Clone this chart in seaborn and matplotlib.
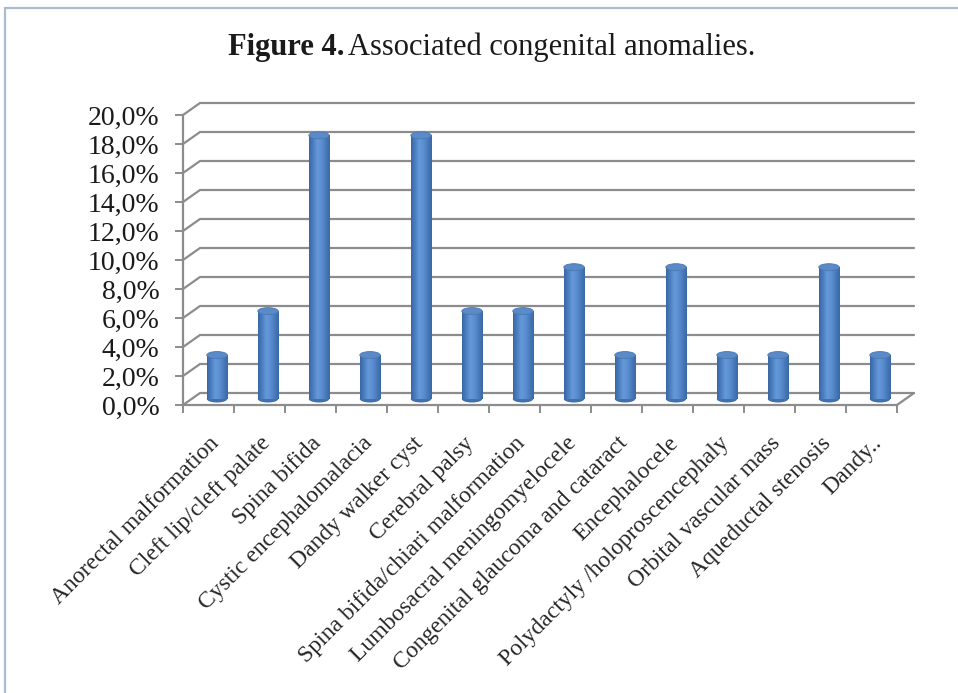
import matplotlib
matplotlib.use("Agg")
import matplotlib.pyplot as plt
from matplotlib.patches import Rectangle, Ellipse
import numpy as np
import pandas as pd
import seaborn as sns

categories = [
    "Anorectal malformation", "Cleft lip/cleft palate", "Spina bifida",
    "Cystic encephalomalacia", "Dandy walker cyst", "Cerebral palsy",
    "Spina bifida/chiari malformation", "Lumbosacral meningomyelocele",
    "Congenital glaucoma and cataract", "Encephalocele",
    "Polydactyly /holoproscencephaly", "Orbital vascular mass",
    "Aqueductal stenosis", "Dandy..",
]
shares = [0.0303, 0.0606, 0.1818, 0.0303, 0.1818, 0.0606, 0.0606,
          0.0909, 0.0303, 0.0909, 0.0303, 0.0303, 0.0909, 0.0303]
y_ticks = [0.00, 0.02, 0.04, 0.06, 0.08, 0.10, 0.12, 0.14, 0.16, 0.18, 0.20]

df = pd.DataFrame({"anomaly": categories, "share": shares})

sns.set_theme(style="white")
plt.rcParams["font.family"] = ["Liberation Serif", "DejaVu Serif"]

W, H = 958, 693
fig = plt.figure(figsize=(W / 100, H / 100), dpi=100)
fig.patch.set_facecolor("white")

# front plane of the 3-D style plot area (pixel layout)
x0, x1, yb, yt = 183, 897, 405, 115
ax = fig.add_axes([x0 / W, 1 - yb / H, (x1 - x0) / W, (yb - yt) / H])
ax.set_facecolor("none")
n = len(categories)
ax.set_xlim(-0.5, n - 0.5)
ax.set_ylim(0, 0.2)

# depth of the box: back wall shifted right and up
px_x = n / (x1 - x0)
px_y = 0.2 / (yb - yt)
dx, dy = 17 * px_x, 12 * px_y

grid_col = "#8c8c8c"
for v in y_ticks:
    ax.plot([-0.5, -0.5 + dx, n - 0.5 + dx], [v, v + dy, v + dy],
            color=grid_col, lw=1.6, clip_on=False, zorder=1)
# floor
ax.plot([n - 0.5, n - 0.5 + dx], [0, dy], color=grid_col, lw=1.6,
        clip_on=False, zorder=1)

sns.barplot(data=df, x="anomaly", y="share", ax=ax, width=0.4,
            color="#4f81bd", saturation=1, edgecolor="none", zorder=3)

# cylinder shading
grad_cols = np.array([
    [0.22, 0.40, 0.64], [0.30, 0.50, 0.76], [0.40, 0.60, 0.85],
    [0.36, 0.56, 0.82], [0.29, 0.48, 0.74], [0.23, 0.41, 0.65],
])
grad = np.linspace(0, 1, 60)
rgb = np.stack([np.interp(grad, np.linspace(0, 1, len(grad_cols)), grad_cols[:, k])
                for k in range(3)], axis=-1)[None, :, :]
cap_h = 7 * px_y
for p in ax.patches:
    p.set_x(p.get_x() + dx / 2)
    p.set_y(dy / 2)
    bx, bw, bh = p.get_x(), p.get_width(), p.get_height()
    im = ax.imshow(rgb, extent=(bx, bx + bw, dy / 2, dy / 2 + bh),
                   aspect="auto", zorder=3.5, interpolation="bilinear")
    im.set_clip_path(p)
    ax.add_patch(Ellipse((bx + bw / 2, dy / 2), bw, cap_h,
                         facecolor="#4170aa", edgecolor="none", zorder=3.2))
    ax.add_patch(Ellipse((bx + bw / 2, dy / 2 + bh), bw, cap_h,
                         facecolor="#5a8bc8", edgecolor="#4a78b3", lw=0.6,
                         zorder=4))
ax.set_xlim(-0.5, n - 0.5)
ax.set_ylim(0, 0.2)

for s in ["top", "right"]:
    ax.spines[s].set_visible(False)
for s in ["left", "bottom"]:
    ax.spines[s].set_color(grid_col)
    ax.spines[s].set_linewidth(1.6)

ax.set_yticks(y_ticks)
ax.set_yticklabels([f"{v * 100:.1f}%".replace(".", ",") for v in y_ticks])
ax.set_xticks(np.arange(n + 1) - 0.5, minor=True)
ax.set_xticks(np.arange(n))
ax.set_xticklabels(categories, rotation=45, ha="right", rotation_mode="anchor")
ax.tick_params(axis="y", which="major", direction="out", length=6, width=1.4,
               color=grid_col, labelsize=20, labelcolor="#1a1a1a", pad=11, left=True)
ax.tick_params(axis="x", which="major", length=0, labelsize=17,
               labelcolor="#262626", pad=20)
ax.tick_params(axis="x", which="minor", direction="out", length=6, width=1.4,
               color=grid_col, bottom=True)
ax.set_xlabel("")
ax.set_ylabel("")

# title
fig.text(344 / W, 1 - 47 / H, "Figure 4.", fontsize=22, fontweight="bold",
         ha="right", va="center", color="#1a1a1a")
fig.text(348 / W, 1 - 47 / H, "Associated congenital anomalies.", fontsize=22,
         ha="left", va="center", color="#1a1a1a")

# frame around the figure panel
fig.patches.append(Rectangle((5 / W, -0.1), 1.2, 1 - 8 / H + 0.1, fill=False,
                             edgecolor="#a9bdd0", lw=1.6,
                             transform=fig.transFigure))

fig.savefig("out.png", dpi=100, facecolor="white")
